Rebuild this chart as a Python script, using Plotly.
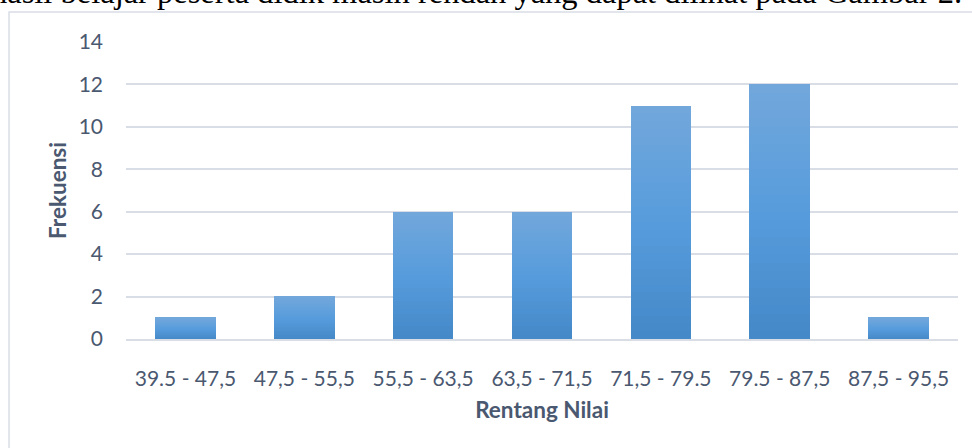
import plotly.graph_objects as go
import numpy as np

categories = ["39.5 - 47,5", "47,5 - 55,5", "55,5 - 63,5", "63,5 - 71,5",
              "71,5 - 79.5", "79.5 - 87,5", "87,5 - 95,5"]
frekuensi = [1, 2, 6, 6, 11, 12, 1]
y_ticks = [0, 2, 4, 6, 8, 10, 12, 14]
caption = "hasil belajar peserta didik masih rendah yang dapat dilihat pada Gambar 2."

FONT = "Lato"
TXT = "#4a5870"

# gradient stops (bottom -> middle -> top)
stops = [(0.0, (0x44, 0x88, 0xC8)), (0.5, (0x57, 0x9C, 0xDC)), (1.0, (0x72, 0xA7, 0xDB))]

def grad(t):
    for (t0, c0), (t1, c1) in zip(stops[:-1], stops[1:]):
        if t0 <= t <= t1:
            f = (t - t0) / (t1 - t0)
            c = [round(a + (b - a) * f) for a, b in zip(c0, c1)]
            return "rgb(%d,%d,%d)" % tuple(c)
    return "rgb(%d,%d,%d)" % stops[-1][1]

N = 30
vals = np.array(frekuensi, dtype=float)
fig = go.Figure()
for i in range(N):
    t = (i + 0.5) / N
    fig.add_trace(go.Bar(
        x=categories, y=vals / N,
        marker=dict(color=grad(t), line=dict(width=0)),
        width=0.51, hoverinfo="skip", showlegend=False,
    ))

fig.update_layout(
    barmode="stack",
    width=972, height=448,
    margin=dict(l=126, r=14, t=42, b=109),
    paper_bgcolor="white", plot_bgcolor="white",
    font=dict(family=FONT, color=TXT),
    bargap=0.49,
    xaxis=dict(
        showgrid=False, showline=True, linecolor="#d9dde5", linewidth=1.5,
        ticks="", tickfont=dict(size=21, color=TXT, family=FONT),
        ticklabelstandoff=20,
        title=dict(text="<b>Rentang Nilai</b>", font=dict(size=22.5, color=TXT, family=FONT), standoff=13),
    ),
    yaxis=dict(
        range=[0, 14], tickvals=y_ticks, showgrid=True, gridcolor="#d9dde5", gridwidth=1.5,
        zeroline=False, showline=False, ticks="",
        tickfont=dict(size=21, color=TXT, family=FONT),
        ticklabelstandoff=22,
        title=dict(text="<b>Frekuensi</b>", font=dict(size=22.5, color=TXT, family=FONT), standoff=5),
    ),
    shapes=[dict(type="rect", xref="paper", yref="paper",
                 x0=-0.1406, x1=1.2, y0=-0.6, y1=1.101,
                 line=dict(color="#d9dee6", width=1.5), fillcolor="rgba(0,0,0,0)", layer="below")],
    annotations=[dict(text=caption, xref="paper", yref="paper",
                      x=(964 - 126) / 832, xanchor="right",
                      y=(339 + 9) / 297, yanchor="bottom", yshift=-21,
                      showarrow=False,
                      font=dict(family="Liberation Serif", size=32.5, color="black"))],
)

fig.write_html("out.html")
